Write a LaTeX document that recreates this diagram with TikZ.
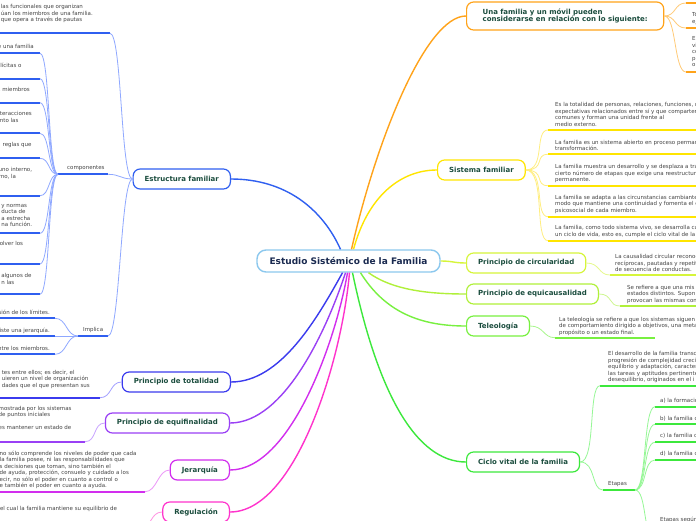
\documentclass[tikz,border=0pt]{standalone}
\usepackage{fontspec}
\setmainfont{DejaVu Sans}
\usetikzlibrary{calc}

\definecolor{ink}{HTML}{444444}
\definecolor{topicink}{HTML}{1B4D3E}
\definecolor{rootink}{HTML}{1A2A50}
\definecolor{rootline}{HTML}{8CC8EE}
\definecolor{estb}{HTML}{2F5FF0}
\definecolor{estt}{HTML}{8FA8FF}
\definecolor{orng}{HTML}{FFA31A}
\definecolor{orngt}{HTML}{FFCB78}
\definecolor{yel}{HTML}{FFE500}
\definecolor{yelt}{HTML}{FFEE80}
\definecolor{circ}{HTML}{D6F53A}
\definecolor{circt}{HTML}{E6F98E}
\definecolor{equi}{HTML}{B0F03A}
\definecolor{equit}{HTML}{CFF792}
\definecolor{tel}{HTML}{78F040}
\definecolor{telt}{HTML}{AAF78E}
\definecolor{cv}{HTML}{3CE83C}
\definecolor{cvt}{HTML}{96F796}
\definecolor{tot}{HTML}{3B3BEE}
\definecolor{tott}{HTML}{A3A0FF}
\definecolor{eqf}{HTML}{9A40F5}
\definecolor{eqft}{HTML}{C8A3FF}
\definecolor{jer}{HTML}{D22EEE}
\definecolor{jert}{HTML}{EC95F8}
\definecolor{reg}{HTML}{FF33CC}
\definecolor{regt}{HTML}{FF95E2}

\begin{document}
\begin{tikzpicture}[x=1pt, y=-1pt,
	root/.style={draw=rootline, line width=1.4pt, fill=white, rounded corners=9pt,
		minimum width=183pt, minimum height=22pt, text=rootink,
		font=\fontsize{9}{10}\selectfont\bfseries},
	topic/.style={draw=#1, line width=1.2pt, fill=white, rounded corners=7pt,
		minimum height=20pt, inner xsep=11.5pt, text=topicink,
		font=\fontsize{7}{7.8}\selectfont\bfseries},
	leaf/.style={inner sep=0pt, align=left, text=ink, font=\fontsize{5.5}{6.4}\selectfont},
	branch/.style={draw=#1, line width=1.4pt},
	twig/.style={draw=#1, line width=0.8pt},
	under/.style={draw=#1, line width=1.8pt}]
	\useasboundingbox (0,0) rectangle (696,520);
	\fill[white] (0,0) rectangle (696,520);
	\clip (0,0) rectangle (696,520);

	% centre and main topics
	\node[root] (root) at (348.5,261) {Estudio Sistémico de la Familia};
	\node[topic=orng, align=left, inner xsep=16pt, minimum height=28pt, anchor=west] (movil) at (466,16)
		{Una familia y un móvil pueden\\considerarse en relación con lo siguiente:};
	\node[topic=yel, anchor=west] (sisfam) at (437,170) {Sistema familiar};
	\node[topic=circ, anchor=west] (circu) at (466,263) {Principio de circularidad};
	\node[topic=equi, anchor=west] (equic) at (466,294) {Principio de equicausalidad};
	\node[topic=tel, anchor=west] (teleo) at (466,326) {Teleología};
	\node[topic=cv, anchor=west] (ciclo) at (466,462) {Ciclo vital de la familia};
	\node[topic=estb, anchor=east] (estr) at (231,179) {Estructura familiar};
	\node[topic=tot, anchor=east] (total) at (231,382) {Principio de totalidad};
	\node[topic=eqf, anchor=east] (equif) at (230,423) {Principio de equifinalidad};
	\node[topic=jer, anchor=east] (jerar) at (230,470) {Jerarquía};
	\node[topic=reg, anchor=east] (regul) at (230,512) {Regulación};

	\draw[branch=estb] (estr.east) .. controls +(55,0) and +(-18,-40) .. ($(root.north)+(-8,0)$);
	\draw[branch=orng] ($(root.north)+(3,0)$) .. controls +(25,-110) and +(-40,0) .. (movil.west);
	\draw[branch=yel] ($(root.north)+(5,0)$) .. controls +(15,-55) and +(-35,0) .. (sisfam.west);
	\draw[branch=circ] (root.east) .. controls +(12,0) and +(-12,0) .. (circu.west);
	\draw[branch=equi] ($(root.south)+(20,0)$) .. controls +(25,18) and +(-35,0) .. (equic.west);
	\draw[branch=tel] ($(root.south)+(12,0)$) .. controls +(25,40) and +(-45,0) .. (teleo.west);
	\draw[branch=cv] ($(root.south)+(4,0)$) .. controls +(25,120) and +(-50,0) .. (ciclo.west);
	\draw[branch=tot] (total.east) .. controls +(50,0) and +(-25,45) .. ($(root.south)+(-6,0)$);
	\draw[branch=eqf] (equif.east) .. controls +(55,0) and +(-18,55) .. ($(root.south)+(-3,0)$);
	\draw[branch=jer] (jerar.east) .. controls +(60,0) and +(-12,70) .. ($(root.south)+(-1,0)$);
	\draw[branch=reg] (regul.east) .. controls +(65,0) and +(-8,90) .. ($(root.south)+(1,0)$);

	% Una familia y un movil
	\foreach \n/\yt/\yu/\txt in {1/-20/3/{}, 2/12.6/28/{To\\ej}, 3/36.6/72/{El\\vi\\co\\pl\\o}}
	{
		\node[leaf, anchor=north west] (mo\n) at (692,\yt) {\txt};
		\coordinate (mou\n) at (686,\yu);
		\draw[under=orng] (mou\n) -- +(20,0);
		\draw[twig=orngt] (movil.east) .. controls +(12,0) and +(-12,0) .. (mou\n);
	}

	% Sistema familiar
	\foreach \n/\yt/\yu/\txt in {
		1/102.6/130/{Es la totalidad de personas, relaciones, funciones, r\\expectativas relacionados entre sí y que comparten\\comunes y forman una unidad frente al\\medio externo.},
		2/139.9/154.3/{La familia es un sistema abierto en proceso perman\\transformación.},
		3/164.3/185.7/{La familia muestra un desarrollo y se desplaza a tra\\cierto número de etapas que exige una reestructur\\permanente.},
		4/194.9/216.7/{La familia se adapta a las circunstancias cambiante\\modo que mantiene una continuidad y fomenta el c\\psicosocial de cada miembro.},
		5/225.3/240.7/{La familia, como todo sistema vivo, se desarrolla cu\\un ciclo de vida, esto es, cumple el ciclo vital de la}}
	{
		\node[leaf, anchor=north west] (sf\n) at (555,\yt) {\txt};
		\coordinate (sfu\n) at (548,\yu);
		\draw[under=yel] (sfu\n) -- +(160,0);
		\draw[twig=yelt] (sisfam.east) .. controls +(20,0) and +(-14,0) .. (sfu\n);
	}

	% principios de la derecha
	\foreach \nm/\src/\x/\xu/\yt/\yu/\c/\txt in {
		ci/circu/615/610/254.3/275/circ/{La causalidad circular reconoc\\recíprocas, pautadas y repetit\\de secuencia de conductas.},
		eq/equic/627/620/284.9/306/equi/{Se refiere a que una mis\\estados distintos. Supon\\provocan las mismas con},
		te/teleo/559/555/316.6/337.7/tel/{La teleología se refiere a que los sistemas siguen\\de comportamiento dirigido a objetivos, una meta\\propósito o un estado final.}}
	{
		\node[leaf, anchor=north west] (\nm) at (\x,\yt) {\txt};
		\coordinate (\nm u) at (\xu,\yu);
		\draw[under=\c] (\nm u) -- +(100,0);
		\draw[twig=\c t] (\src.east) .. controls +(14,0) and +(-12,0) .. (\nm u);
	}

	% Ciclo vital
	\node[leaf, anchor=north west] (cvdes) at (608,351.6) {El desarrollo de la familia transc\\progresión de complejidad creci\\equilibrio y adaptación, caracter\\las tareas y aptitudes pertinente\\desequilibrio, originados en el i};
	\coordinate (cvu) at (600,385.7);
	\draw[under=cv] (cvu) -- +(100,0);
	\node[leaf, anchor=north west] (etapas) at (608,481.6) {Etapas};
	\coordinate (etL) at (603,490);
	\coordinate (etR) at (635,490);
	\draw[under=cv] (etL) -- (etR);
	\draw[twig=cvt] (ciclo.east) .. controls +(16,0) and +(-12,0) .. (cvu);
	\draw[twig=cvt] (ciclo.east) .. controls +(16,0) and +(-12,0) .. (etL);
	\foreach \n/\yt/\yu/\txt in {1/397.6/406.7/{a) la formació}, 2/415.9/424.3/{b) la familia c},
		3/433.6/442.3/{c) la familia c}, 4/451.6/460/{d) la familia c}, 5/516.9/540/{Etapas según}}
	{
		\node[leaf, anchor=north west] (et\n) at (660,\yt) {\txt};
		\coordinate (etu\n) at (655,\yu);
		\draw[under=cv] (etu\n) -- +(60,0);
		\draw[twig=cvt] (etR) .. controls +(12,0) and +(-12,0) .. (etu\n);
	}

	% Estructura familiar
	\node[leaf, anchor=north east] (def) at (93,4.3) {las funcionales que organizan\\úan los miembros de una familia.\\que opera a través de pautas};
	\coordinate (defu) at (110,33.3);
	\draw[under=estb] (defu) -- +(-120,0);
	\node[leaf, anchor=north west] (compo) at (67,165.3) {componentes};
	\coordinate (compL) at (58,174.3);
	\coordinate (compR) at (108,174.3);
	\draw[under=estb] (compL) -- (compR);
	\node[leaf, anchor=north west] (impl) at (83,327.6) {Implica};
	\coordinate (implL) at (78,336);
	\coordinate (implR) at (108,336);
	\draw[under=estb] (implL) -- (implR);
	\foreach \e in {defu, compR, implR}
		\draw[twig=estt] (estr.west) .. controls +(-12,0) and +(12,0) .. (\e);
	\foreach \n/\xe/\yt/\yu/\txt in {
		1/34/44.3/53.3/{e una familia},
		2/21.7/62.9/78.7/{lícitas o},
		3/30/87.6/102.7/{s miembros},
		4/32/111.6/133.3/{teracciones\\nto las},
		5/31.7/142.6/158.3/{reglas que},
		6/32.3/167.6/195.7/{uno interno,\\rno, la},
		7/32.3/204.3/233.3/{y normas\\ducta de\\a estrecha\\na función.},
		8/23.3/241.6/264/{olver los},
		9/31.7/273.6/294.3/{algunos de\\n las}}
	{
		\node[leaf, anchor=north east] (co\n) at (\xe,\yt) {\txt};
		\coordinate (cou\n) at (40,\yu);
		\draw[under=estb] (cou\n) -- +(-50,0);
		\draw[twig=estt] (compL) .. controls +(-10,0) and +(10,0) .. (cou\n);
	}
	\foreach \n/\yt/\yu/\txt in {1/309.9/318.3/{sión de los límites.}, 2/327.6/336/{iste una jerarquía.},
		3/345.9/354.3/{ntre los miembros.}}
	{
		\node[leaf, anchor=north east] (im\n) at (50,\yt) {\txt};
		\coordinate (imu\n) at (55,\yu);
		\draw[under=estb] (imu\n) -- +(-60,0);
		\draw[twig=estt] (implL) .. controls +(-12,0) and +(12,0) .. (imu\n);
	}

	% principios de la izquierda
	\foreach \nm/\src/\xe/\xu/\yt/\yu/\c/\txt in {
		to/total/90/100/369.9/397.7/tot/{tes entre ellos; es decir, el\\uieren un nivel de organización\\dades que el que presentan sus},
		ef/equif/71.7/85/405.9/441.7/eqf/{mostrada por los sistemas\\de puntos iniciales\\[6.4pt]es mantener un estado de},
		je/jerar/136.7/145/450.9/491.7/jer/{no sólo comprende los niveles de poder que cada\\la familia posee, ni las responsabilidades que\\s decisiones que toman, sino también el\\de ayuda, protección, consuelo y cuidado a los\\ecir, no sólo el poder en cuanto a control o\\e también el poder en cuanto a ayuda.},
		re/regul/117.3/140/505.9/528/reg/{el cual la familia mantiene su equilibrio de}}
	{
		\node[leaf, anchor=north east] (\nm) at (\xe,\yt) {\txt};
		\coordinate (\nm u) at (\xu,\yu);
		\draw[under=\c] (\nm u) -- +(-160,0);
		\draw[twig=\c t] (\src.west) .. controls +(-12,0) and +(12,0) .. (\nm u);
	}
\end{tikzpicture}
\end{document}
